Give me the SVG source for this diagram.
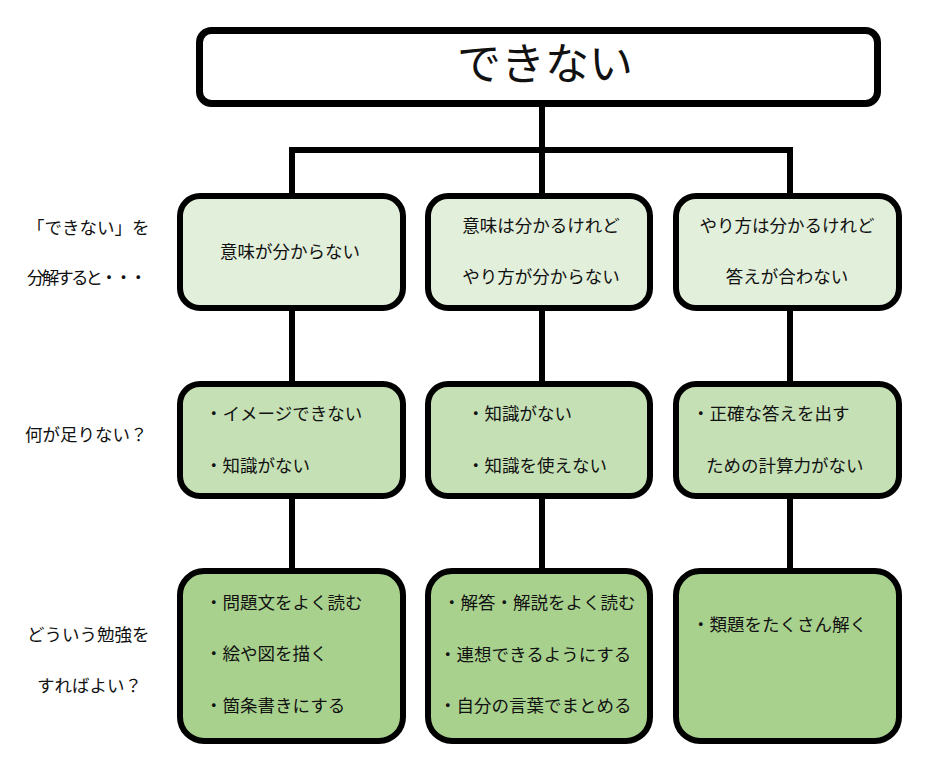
<svg xmlns="http://www.w3.org/2000/svg" width="934" height="760" viewBox="0 0 934 760">
<style>
text{font-family:"Noto Sans CJK JP","Noto Sans",sans-serif;fill:#111;font-size:17.5px}
.box{stroke:#000;stroke-width:6}
.r1{fill:#E2EFDA}.r2{fill:#C5E0B4}.r3{fill:#A9D18E}
.c{text-anchor:middle}
.conn{stroke:#000;stroke-width:6;fill:none}
</style>
<rect width="934" height="760" fill="#fff"/>
<g id="connectors">
<path class="conn" d="M542 105V150M292 150H790M292 147V196M542 147V196M790 147V196"/>
<path class="conn" d="M292 308V384M542 308V384M790 308V384"/>
<path class="conn" d="M292 496V571M542 496V571M790 496V571"/>
</g>
<g id="root">
<rect x="199.5" y="30.5" width="678" height="73" rx="12" fill="#fff" stroke="#000" stroke-width="7"/>
<text x="545" y="80" class="c" style="font-size:44px">できない</text>
</g>
<g id="labels">
<text x="27" y="234">「できない」を</text>
<text x="27" y="284" textLength="120" lengthAdjust="spacing">分解すると・・・</text>
<text x="25" y="441">何が足りない？</text>
<text x="27" y="641">どういう勉強を</text>
<text x="37" y="692">すればよい？</text>
</g>
<g id="n1a"><rect class="box r1" x="180" y="196" width="223" height="112" rx="20"/>
<text x="290" y="258" class="c">意味が分からない</text></g>
<g id="n1b"><rect class="box r1" x="428" y="196" width="222" height="112" rx="20"/>
<text x="541" y="232" class="c">意味は分かるけれど</text>
<text x="541" y="283" class="c">やり方が分からない</text></g>
<g id="n1c"><rect class="box r1" x="676" y="196" width="223" height="112" rx="20"/>
<text x="787" y="232" class="c">やり方は分かるけれど</text>
<text x="787" y="283" class="c">答えが合わない</text></g>
<g id="n2a"><rect class="box r2" x="180" y="384" width="223" height="112" rx="20"/>
<text x="205" y="420">・イメージできない</text>
<text x="205" y="472">・知識がない</text></g>
<g id="n2b"><rect class="box r2" x="428" y="384" width="222" height="112" rx="20"/>
<text x="467" y="420">・知識がない</text>
<text x="467" y="472">・知識を使えない</text></g>
<g id="n2c"><rect class="box r2" x="676" y="384" width="223" height="112" rx="20"/>
<text x="692" y="420">・正確な答えを出す</text>
<text x="706" y="472">ための計算力がない</text></g>
<g id="n3a"><rect class="box r3" x="180" y="571" width="223" height="170" rx="24"/>
<text x="205" y="609">・問題文をよく読む</text>
<text x="205" y="660">・絵や図を描く</text>
<text x="205" y="712">・箇条書きにする</text></g>
<g id="n3b"><rect class="box r3" x="428" y="571" width="222" height="170" rx="24"/>
<text x="443" y="609">・解答・解説をよく読む</text>
<text x="439" y="661">・連想できるようにする</text>
<text x="439" y="712">・自分の言葉でまとめる</text></g>
<g id="n3c"><rect class="box r3" x="676" y="571" width="223" height="170" rx="24"/>
<text x="692" y="631">・類題をたくさん解く</text></g>
</svg>
